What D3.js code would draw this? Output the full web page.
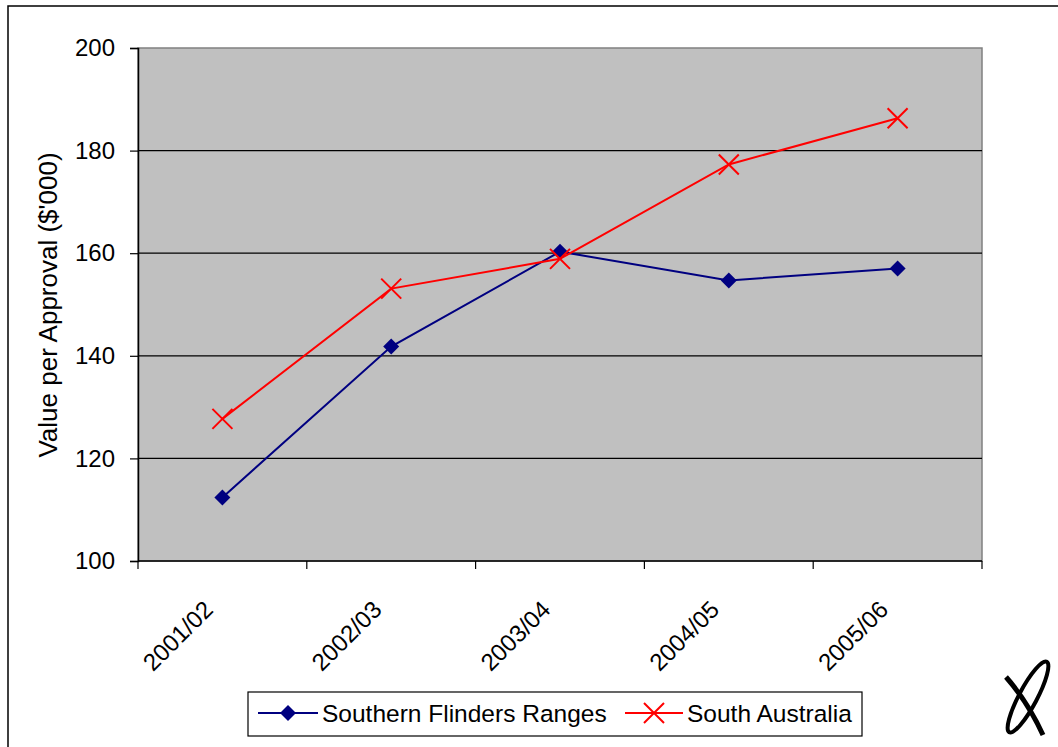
<!DOCTYPE html>
<html><head><meta charset="utf-8">
<script src="https://cdn.jsdelivr.net/npm/d3@7"></script>
<style>body{margin:0;background:#fff}svg{display:block;font-family:"Liberation Sans",Arial,sans-serif}</style>
</head><body><svg id="c" width="1058" height="747"></svg>
<script>
const categories = ["2001/02","2002/03","2003/04","2004/05","2005/06"];
const sfrValues = [112.4, 141.8, 160.3, 154.7, 157.0];
const saValues = [127.7, 153.1, 158.9, 177.3, 186.3];
const yTicks = [100,120,140,160,180,200];
const seriesNames = ["Southern Flinders Ranges","South Australia"];

const svg = d3.select("#c");
const L=138, R=982, T=48, B=561;

svg.append("rect").attr("x",8).attr("y",6).attr("width",1200).attr("height",900)
  .attr("fill","#fff").attr("stroke","#000").attr("stroke-width",1.5);

const x = d3.scaleBand().domain(categories).range([L,R]);
const y = d3.scaleLinear().domain([100,200]).range([B,T]);

svg.append("rect").attr("x",L).attr("y",T).attr("width",R-L).attr("height",B-T)
  .attr("fill","#c0c0c0").attr("stroke","#808080").attr("stroke-width",1.5);

svg.append("g").selectAll("line").data(yTicks.filter(v=>v>100&&v<200)).join("line")
  .attr("x1",L).attr("x2",R).attr("y1",d=>y(d)).attr("y2",d=>y(d))
  .attr("stroke","#000").attr("stroke-width",1.2);

const ya = svg.append("g").attr("transform",`translate(${L},0)`)
  .call(d3.axisLeft(y).tickValues(yTicks).tickSize(8).tickPadding(15));
ya.select(".domain").attr("stroke","#000").attr("stroke-width",1.5);
ya.selectAll(".tick line").attr("stroke","#000").attr("stroke-width",1.2);
ya.selectAll("text").attr("font-size",24).attr("fill","#000").attr("font-family","Liberation Sans, Arial");

const xa = svg.append("g").attr("transform",`translate(0,${B})`);
xa.append("line").attr("x1",L).attr("x2",R).attr("stroke","#000").attr("stroke-width",1.5);
const bounds = categories.map(c=>x(c)).concat([R]);
xa.selectAll("line.tk").data(bounds).join("line").attr("class","tk")
  .attr("x1",d=>d).attr("x2",d=>d).attr("y1",0).attr("y2",8).attr("stroke","#000").attr("stroke-width",1.2);
xa.selectAll("text").data(categories).join("text")
  .attr("transform",d=>`translate(${x(d)+x.bandwidth()/2-8},${50}) rotate(-45)`)
  .attr("text-anchor","end").attr("font-size",24).text(d=>d);

svg.append("text").attr("transform","translate(57,305) rotate(-90)")
  .attr("text-anchor","middle").attr("font-size",26).text("Value per Approval ($'000)");

const cx = d=>x(d)+x.bandwidth()/2;
const line = d3.line().x(d=>cx(d[0])).y(d=>y(d[1]));

const sfr = categories.map((c,i)=>[c,sfrValues[i]]);
const sa = categories.map((c,i)=>[c,saValues[i]]);

svg.append("path").datum(sfr).attr("d",line).attr("fill","none").attr("stroke","#000080").attr("stroke-width",2);
svg.append("path").datum(sa).attr("d",line).attr("fill","none").attr("stroke","#ff0000").attr("stroke-width",2);

const diamond = (g,px,py,s)=>g.append("path")
  .attr("d",`M${px},${py-s}L${px+s},${py}L${px},${py+s}L${px-s},${py}Z`).attr("fill","#000080");
const cross = (g,px,py,s)=>g.append("path")
  .attr("d",`M${px-s},${py-s}L${px+s},${py+s}M${px-s},${py+s}L${px+s},${py-s}`).attr("stroke","#ff0000").attr("stroke-width",2).attr("fill","none");

const mk = svg.append("g");
sfr.forEach(d=>diamond(mk,cx(d[0]),y(d[1]),8));
sa.forEach(d=>cross(mk,cx(d[0]),y(d[1]),10));

const lg = svg.append("g");
lg.append("rect").attr("x",248).attr("y",692).attr("width",614).attr("height",44)
  .attr("fill","#fff").attr("stroke","#000").attr("stroke-width",1.2);
lg.append("line").attr("x1",258).attr("x2",318).attr("y1",713).attr("y2",713).attr("stroke","#000080").attr("stroke-width",2);
diamond(lg,288,713,8);
lg.append("text").attr("x",322).attr("y",722).attr("font-size",24.5).text(seriesNames[0]);
lg.append("line").attr("x1",625).attr("x2",683).attr("y1",713).attr("y2",713).attr("stroke","#ff0000").attr("stroke-width",2);
cross(lg,654,713,10);
lg.append("text").attr("x",687).attr("y",722).attr("font-size",24.5).text(seriesNames[1]);

const lo = svg.append("g").attr("transform","translate(1028,697)");
lo.append("ellipse").attr("rx",9).attr("ry",40).attr("transform","rotate(28)")
  .attr("fill","none").attr("stroke","#000").attr("stroke-width",4);
lo.append("path").attr("d","M-22,-20 Q0,5 15,38").attr("fill","none").attr("stroke","#000").attr("stroke-width",5);
</script></body></html>
